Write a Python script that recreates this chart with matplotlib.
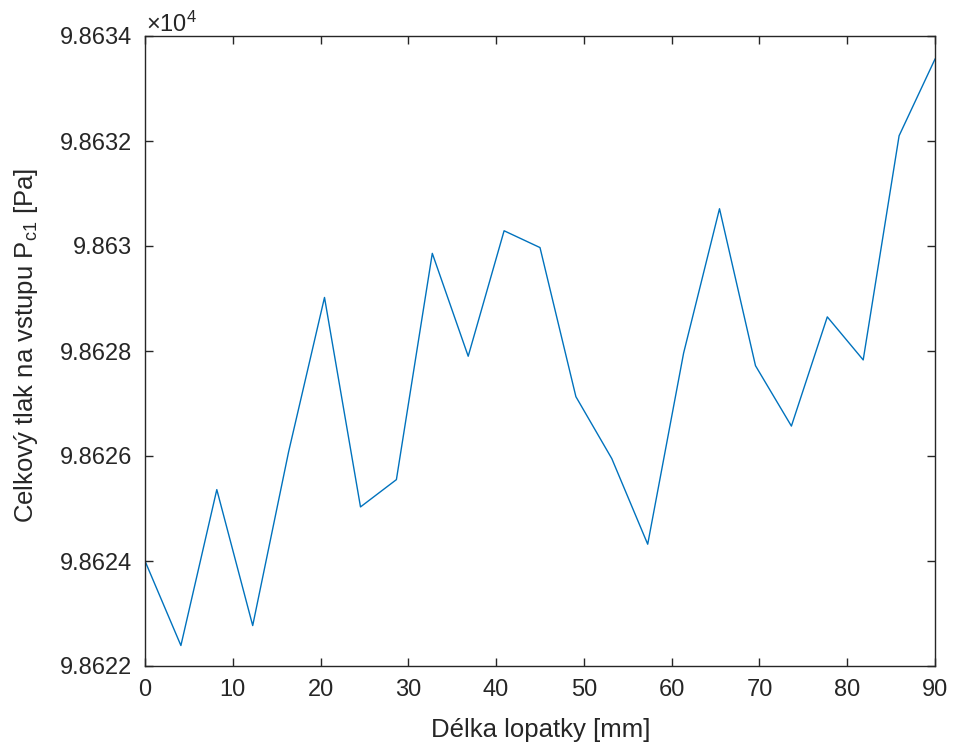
import matplotlib
matplotlib.use("Agg")
import matplotlib.pyplot as plt
from matplotlib.ticker import FuncFormatter

plt.rcParams['font.family'] = ['Liberation Sans', 'DejaVu Sans']
plt.rcParams['mathtext.fontset'] = 'custom'
plt.rcParams['mathtext.rm'] = 'Liberation Sans'
plt.rcParams['mathtext.it'] = 'Liberation Sans'

# Data
length_mm = [0, 4.09, 8.18, 12.27, 16.36, 20.45, 24.55, 28.64, 32.73, 36.82,
             40.91, 45.0, 49.09, 53.18, 57.27, 61.36, 65.45, 69.55, 73.64,
             77.73, 81.82, 85.91, 90.0]
pressure_pa = [98624.00, 98622.39, 98625.36, 98622.77, 98626.08, 98629.02,
               98625.03, 98625.55, 98629.86, 98627.90, 98630.29, 98629.97,
               98627.13, 98625.95, 98624.32, 98627.96, 98630.71, 98627.72,
               98626.57, 98628.65, 98627.83, 98632.10, 98633.56]
xticks = [0, 10, 20, 30, 40, 50, 60, 70, 80, 90]
yticks = [98622, 98624, 98626, 98628, 98630, 98632, 98634]

W, H = 954, 749
fig = plt.figure(figsize=(W / 100, H / 100), dpi=100)
ax = fig.add_axes([145 / W, 1 - 666 / H, (935 - 145) / W, (666 - 36) / H])

ax.plot(length_mm, pressure_pa, color=(0, 0.447, 0.741), linewidth=1.0)

ax.set_xlim(0, 90)
ax.set_ylim(98622, 98634)
ax.set_xticks(xticks)
ax.set_yticks(yticks)
ax.yaxis.set_major_formatter(FuncFormatter(lambda v, p: '%g' % round(v / 1e4, 6)))

gray = (0.15, 0.15, 0.15)
for s in ax.spines.values():
    s.set_color(gray)
    s.set_linewidth(1.0)
ax.tick_params(direction='in', length=6, width=1.0, colors=gray,
               labelsize=17, top=True, right=True)
ax.tick_params(axis='y', pad=9)
ax.tick_params(axis='x', pad=9)

fig.text(541 / W, 1 - 737 / H, 'Délka lopatky [mm]', fontsize=18.5, color=gray,
         ha='center', va='baseline')
fig.text(33 / W, 1 - 345 / H, 'Celkový tlak na vstupu P$_{\\mathrm{c1}}$ [Pa]',
         fontsize=18.5, color=gray, ha='center', va='baseline',
         rotation=90, rotation_mode='anchor')

fig.text(146 / W, 1 - 32 / H, '×10$^{4}$', fontsize=17, color=gray,
         ha='left', va='baseline')

fig.savefig('out.png', dpi=100)
